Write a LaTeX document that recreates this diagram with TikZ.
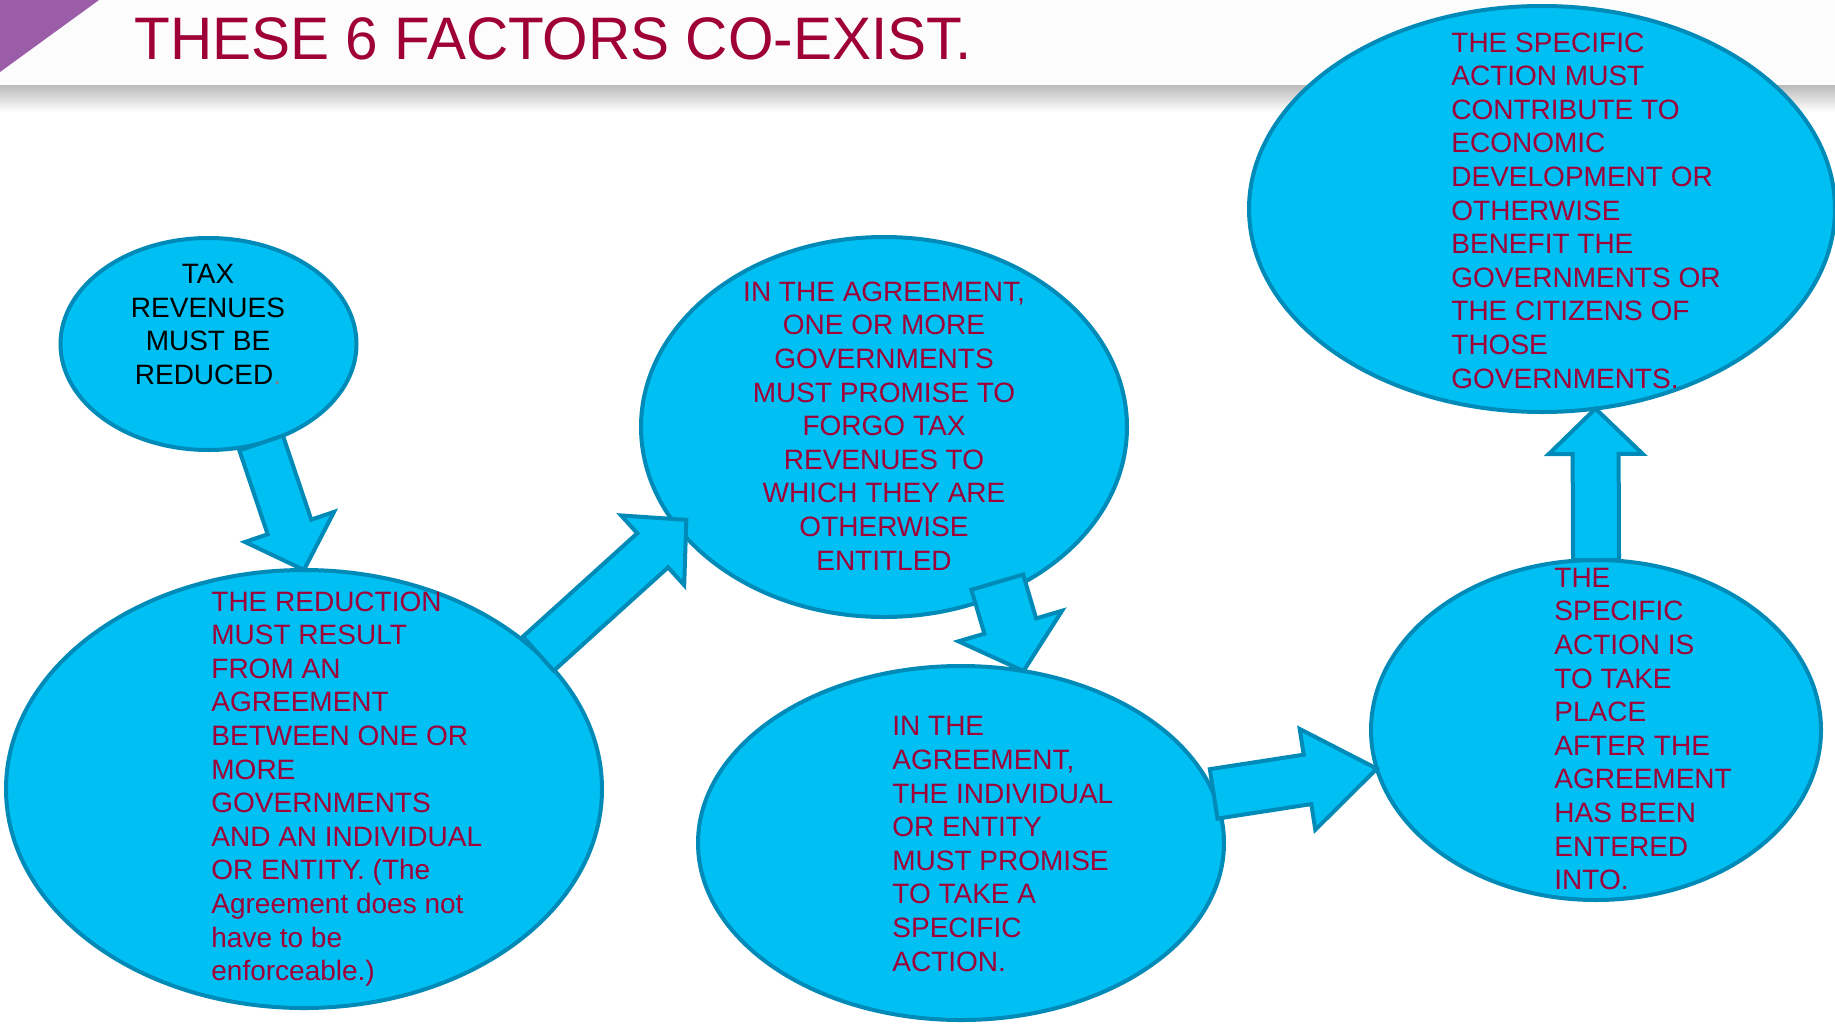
\documentclass[tikz,border=0pt]{standalone}
\usepackage{fontspec}
\setmainfont{Liberation Sans}
\usetikzlibrary{shapes.geometric, shapes.arrows, calc}
\usepackage{xcolor}

\definecolor{skyfill}{RGB}{0,191,243}
\definecolor{skyedge}{RGB}{0,138,184}
\definecolor{crimsontxt}{RGB}{160,0,56}
\definecolor{headpurple}{RGB}{155,92,168}

% block arrow from one point to another: [options]{name}{from}{to}
\newcommand{\blockarrow}[4][]{%
  \path let \p1=(#3), \p2=(#4), \n1={atan2(\y2-\y1,\x2-\x1)}, \n2={veclen(\x2-\x1,\y2-\y1)} in
    node (#2) [bigarrow, #1, anchor=tail, rotate=\n1, minimum height=\n2] at (\p1) {};}

\begin{document}
\begin{tikzpicture}[
        x=0.5pt, y=-0.5pt,
        bubble/.style={ellipse, draw=skyedge, line width=2pt, fill=skyfill, inner sep=0pt, outer sep=0pt},
        bubbletext/.style={font=\fontsize{14}{16.8}\selectfont, text=crimsontxt, inner sep=0pt},
        bigarrow/.style={single arrow, draw=skyedge, line width=2pt, fill=skyfill, inner sep=0pt, outer sep=0pt, text height=10.5pt, text depth=10.5pt, single arrow head extend=12pt, single arrow tip angle=92, single arrow head indent=0pt}
    ]
    \useasboundingbox (0,0) rectangle (1835,1023);

    % The Header
    \fill[white] (0,0) rectangle (1835,1023);
    \fill[black!1] (0,0) rectangle (1835,85);
    \shade[top color=black!27, bottom color=white] (0,85) rectangle (1835,112);
    \fill[headpurple] (0,0) -- (99,0) -- (0,72) -- cycle;
    \node (title) [anchor=base west, inner sep=0pt, text=crimsontxt, font=\fontsize{30}{36}\selectfont] at (134,59) {\scalebox{0.975}[1]{THESE 6 FACTORS CO-EXIST.}};

    % The Bubbles
    \node (tax) [bubble, minimum width=148pt, minimum height=106pt] at (208.5,344) {};
    \node (reduce) [bubble, minimum width=298pt, minimum height=219pt] at (304,789) {};
    \node (agree1) [bubble, minimum width=243pt, minimum height=190pt] at (884,427) {};
    \node (agree2) [bubble, minimum width=263pt, minimum height=177pt] at (961,843) {};
    \node (action) [bubble, minimum width=225pt, minimum height=170pt] at (1596,730) {};
    \node (benefit) [bubble, minimum width=293pt, minimum height=203pt] at (1542,209) {};

    % The Texts
    \node (taxtext) [bubbletext, text=black, align=center] at (208,324.5) {TAX\\REVENUES\\MUST BE\\REDUCED{\color{gray}.}};
    \node (reducetext) [bubbletext, align=left, anchor=west] at (211,789) {THE REDUCTION\\MUST RESULT\\FROM AN\\AGREEMENT\\BETWEEN ONE OR\\MORE\\GOVERNMENTS\\AND AN INDIVIDUAL\\OR ENTITY. (The\\Agreement does not\\have to be\\enforceable.)};
    \node (agree1text) [bubbletext, align=center] at (884,426) {IN THE AGREEMENT,\\ONE OR MORE\\GOVERNMENTS\\MUST PROMISE TO\\FORGO TAX\\REVENUES TO\\WHICH THEY ARE\\OTHERWISE\\ENTITLED};
    \node (agree2text) [bubbletext, align=left, anchor=west] at (892,844) {IN THE\\AGREEMENT,\\THE INDIVIDUAL\\OR ENTITY\\MUST PROMISE\\TO TAKE A\\SPECIFIC\\ACTION.};
    \node (actiontext) [bubbletext, align=left, anchor=west] at (1554,729) {THE\\SPECIFIC\\ACTION IS\\TO TAKE\\PLACE\\AFTER THE\\AGREEMENT\\HAS BEEN\\ENTERED\\INTO.};
    \node (benefittext) [bubbletext, align=left, anchor=west] at (1451,210.5) {THE SPECIFIC\\ACTION MUST\\CONTRIBUTE TO\\ECONOMIC\\DEVELOPMENT OR\\OTHERWISE\\BENEFIT THE\\GOVERNMENTS OR\\THE CITIZENS OF\\THOSE\\GOVERNMENTS.};

    % The Block Arrows
    \blockarrow{arrowA}{tax.-62}{reduce.north}
    \blockarrow{arrowB}{reduce.30}{$(agree1.206)!-6pt!(reduce.30)$}
    \blockarrow[text height=12.5pt, text depth=12.5pt, single arrow head extend=13.5pt, single arrow tip angle=98]{arrowC}{$(agree1.-55)!-6pt!(agree2.70)$}{agree2.70}
    \blockarrow[text height=11.5pt, text depth=11.5pt, single arrow head extend=13pt, single arrow tip angle=72]{arrowD}{agree2.11}{action.190}
    \blockarrow{arrowE}{action.north}{benefit.-75}

\end{tikzpicture}
\end{document}
